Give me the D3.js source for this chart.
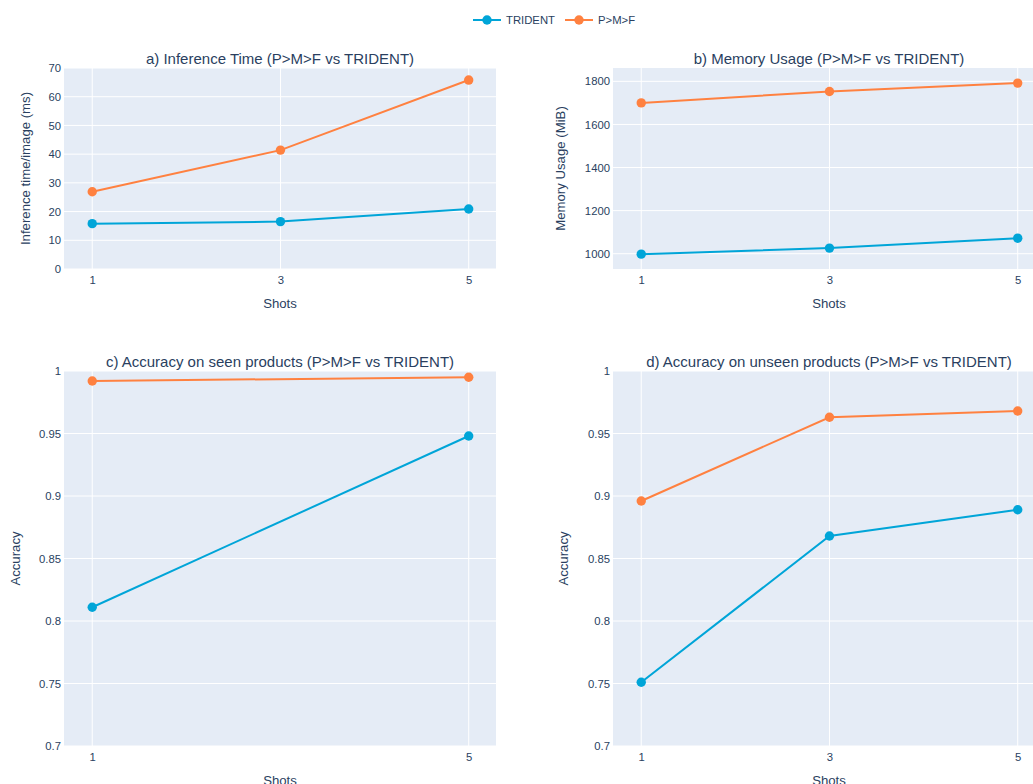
<!DOCTYPE html>
<html>
<head>
<meta charset="utf-8">
<script src="https://cdn.jsdelivr.net/npm/d3@7"></script>
<style>
  body { margin: 0; background: #fff; }
  svg text { font-family: "Liberation Sans", Arial, sans-serif; fill: #2a3f5f; }
</style>
</head>
<body>
<script>
// values
const shots = [1, 3, 5];
const shotsSeen = [1, 5];
const tridentTime = [15.8, 16.5, 20.9];
const pmfTime = [26.9, 41.4, 65.8];
const tridentMem = [998, 1026, 1072];
const pmfMem = [1700, 1753, 1792];
const tridentSeen = [0.811, 0.948];
const pmfSeen = [0.992, 0.995];
const tridentUnseen = [0.751, 0.868, 0.889];
const pmfUnseen = [0.896, 0.963, 0.968];

const timeTicks = [0, 10, 20, 30, 40, 50, 60, 70];
const memTicks = [1000, 1200, 1400, 1600, 1800];
const accTicks = [0.7, 0.75, 0.8, 0.85, 0.9, 0.95, 1];

const seriesNames = ["TRIDENT", "P>M>F"];
const colors = ["#00a5d8", "#ff8140"];

const W = 1033, H = 784;
const svg = d3.select("body").append("svg").attr("width", W).attr("height", H);

const panels = [
  {title: "a) Inference Time (P>M>F vs TRIDENT)", ytitle: "Inference time/image (ms)",
   x: shots, ys: [tridentTime, pmfTime], yDomain: [0, 70], yTicks: timeTicks,
   left: 64, top: 68, bottom: 269, ytx: 25},
  {title: "b) Memory Usage (P>M>F vs TRIDENT)", ytitle: "Memory Usage (MiB)",
   x: shots, ys: [tridentMem, pmfMem], yDomain: [929, 1862], yTicks: memTicks,
   left: 613, top: 68, bottom: 269, ytx: 560},
  {title: "c) Accuracy on seen products (P>M>F vs TRIDENT)", ytitle: "Accuracy",
   x: shotsSeen, ys: [tridentSeen, pmfSeen], yDomain: [0.7, 1], yTicks: accTicks,
   left: 64, top: 371, bottom: 746, ytx: 15},
  {title: "d) Accuracy on unseen products (P>M>F vs TRIDENT)", ytitle: "Accuracy",
   x: shots, ys: [tridentUnseen, pmfUnseen], yDomain: [0.7, 1], yTicks: accTicks,
   left: 613, top: 371, bottom: 746, ytx: 563}
];
const plotW = 432;

panels.forEach(p => {
  const g = svg.append("g");
  const x = d3.scaleLinear().domain([0.70, 5.29]).range([p.left, p.left + plotW]);
  const y = d3.scaleLinear().domain(p.yDomain).range([p.bottom, p.top]);

  g.append("rect")
    .attr("x", p.left).attr("y", p.top)
    .attr("width", plotW).attr("height", p.bottom - p.top)
    .attr("fill", "#e5ecf6");

  // grid lines
  g.selectAll(".hg").data(p.yTicks).enter().append("line")
    .attr("x1", p.left).attr("x2", p.left + plotW)
    .attr("y1", d => y(d)).attr("y2", d => y(d))
    .attr("stroke", "#fff").attr("stroke-width", 1);
  g.selectAll(".vg").data(p.x).enter().append("line")
    .attr("x1", d => x(d)).attr("x2", d => x(d))
    .attr("y1", p.top).attr("y2", p.bottom)
    .attr("stroke", "#fff").attr("stroke-width", 1);

  // axes via d3 then strip the lines
  const yAxis = g.append("g").attr("transform", `translate(${p.left},0)`)
    .call(d3.axisLeft(y).tickValues(p.yTicks).tickSize(0).tickPadding(3).tickFormat(d3.format("~g")));
  const xAxis = g.append("g").attr("transform", `translate(0,${p.bottom})`)
    .call(d3.axisBottom(x).tickValues(p.x).tickSize(0).tickPadding(7).tickFormat(d3.format("d")));
  [yAxis, xAxis].forEach(a => {
    a.select(".domain").remove();
    a.attr("font-family", null).attr("font-size", null);
    a.selectAll("text").attr("font-size", 11.3);
  });

  // series
  p.ys.forEach((vals, i) => {
    const pts = p.x.map((s, k) => [s, vals[k]]);
    g.append("path")
      .datum(pts)
      .attr("d", d3.line().x(d => x(d[0])).y(d => y(d[1])))
      .attr("fill", "none").attr("stroke", colors[i]).attr("stroke-width", 2);
    g.selectAll(null).data(pts).enter().append("circle")
      .attr("cx", d => x(d[0])).attr("cy", d => y(d[1]))
      .attr("r", 4.7).attr("fill", colors[i]);
  });

  // titles
  g.append("text")
    .attr("x", p.left + plotW / 2).attr("y", p.top - 4)
    .attr("text-anchor", "middle").attr("font-size", 15)
    .text(p.title);
  g.append("text")
    .attr("x", p.left + plotW / 2).attr("y", p.bottom + 34).attr("dy", "0.35em")
    .attr("text-anchor", "middle").attr("font-size", 13.2)
    .text("Shots");
  g.append("text")
    .attr("transform", `translate(${p.ytx},${(p.top + p.bottom) / 2}) rotate(-90)`)
    .attr("dy", "0.35em")
    .attr("text-anchor", "middle").attr("font-size", 13.2)
    .text(p.ytitle);
});

// legend
const legend = svg.append("g");
const legendX = [473, 565];
seriesNames.forEach((name, i) => {
  const lg = legend.append("g").attr("transform", `translate(${legendX[i]},20)`);
  lg.append("line").attr("x1", 0).attr("x2", 28).attr("y1", 0).attr("y2", 0)
    .attr("stroke", colors[i]).attr("stroke-width", 2);
  lg.append("circle").attr("cx", 14).attr("cy", 0).attr("r", 4.7).attr("fill", colors[i]);
  lg.append("text").attr("x", 33).attr("dy", "0.35em").attr("font-size", 11.3).text(name);
});
</script>
</body>
</html>
